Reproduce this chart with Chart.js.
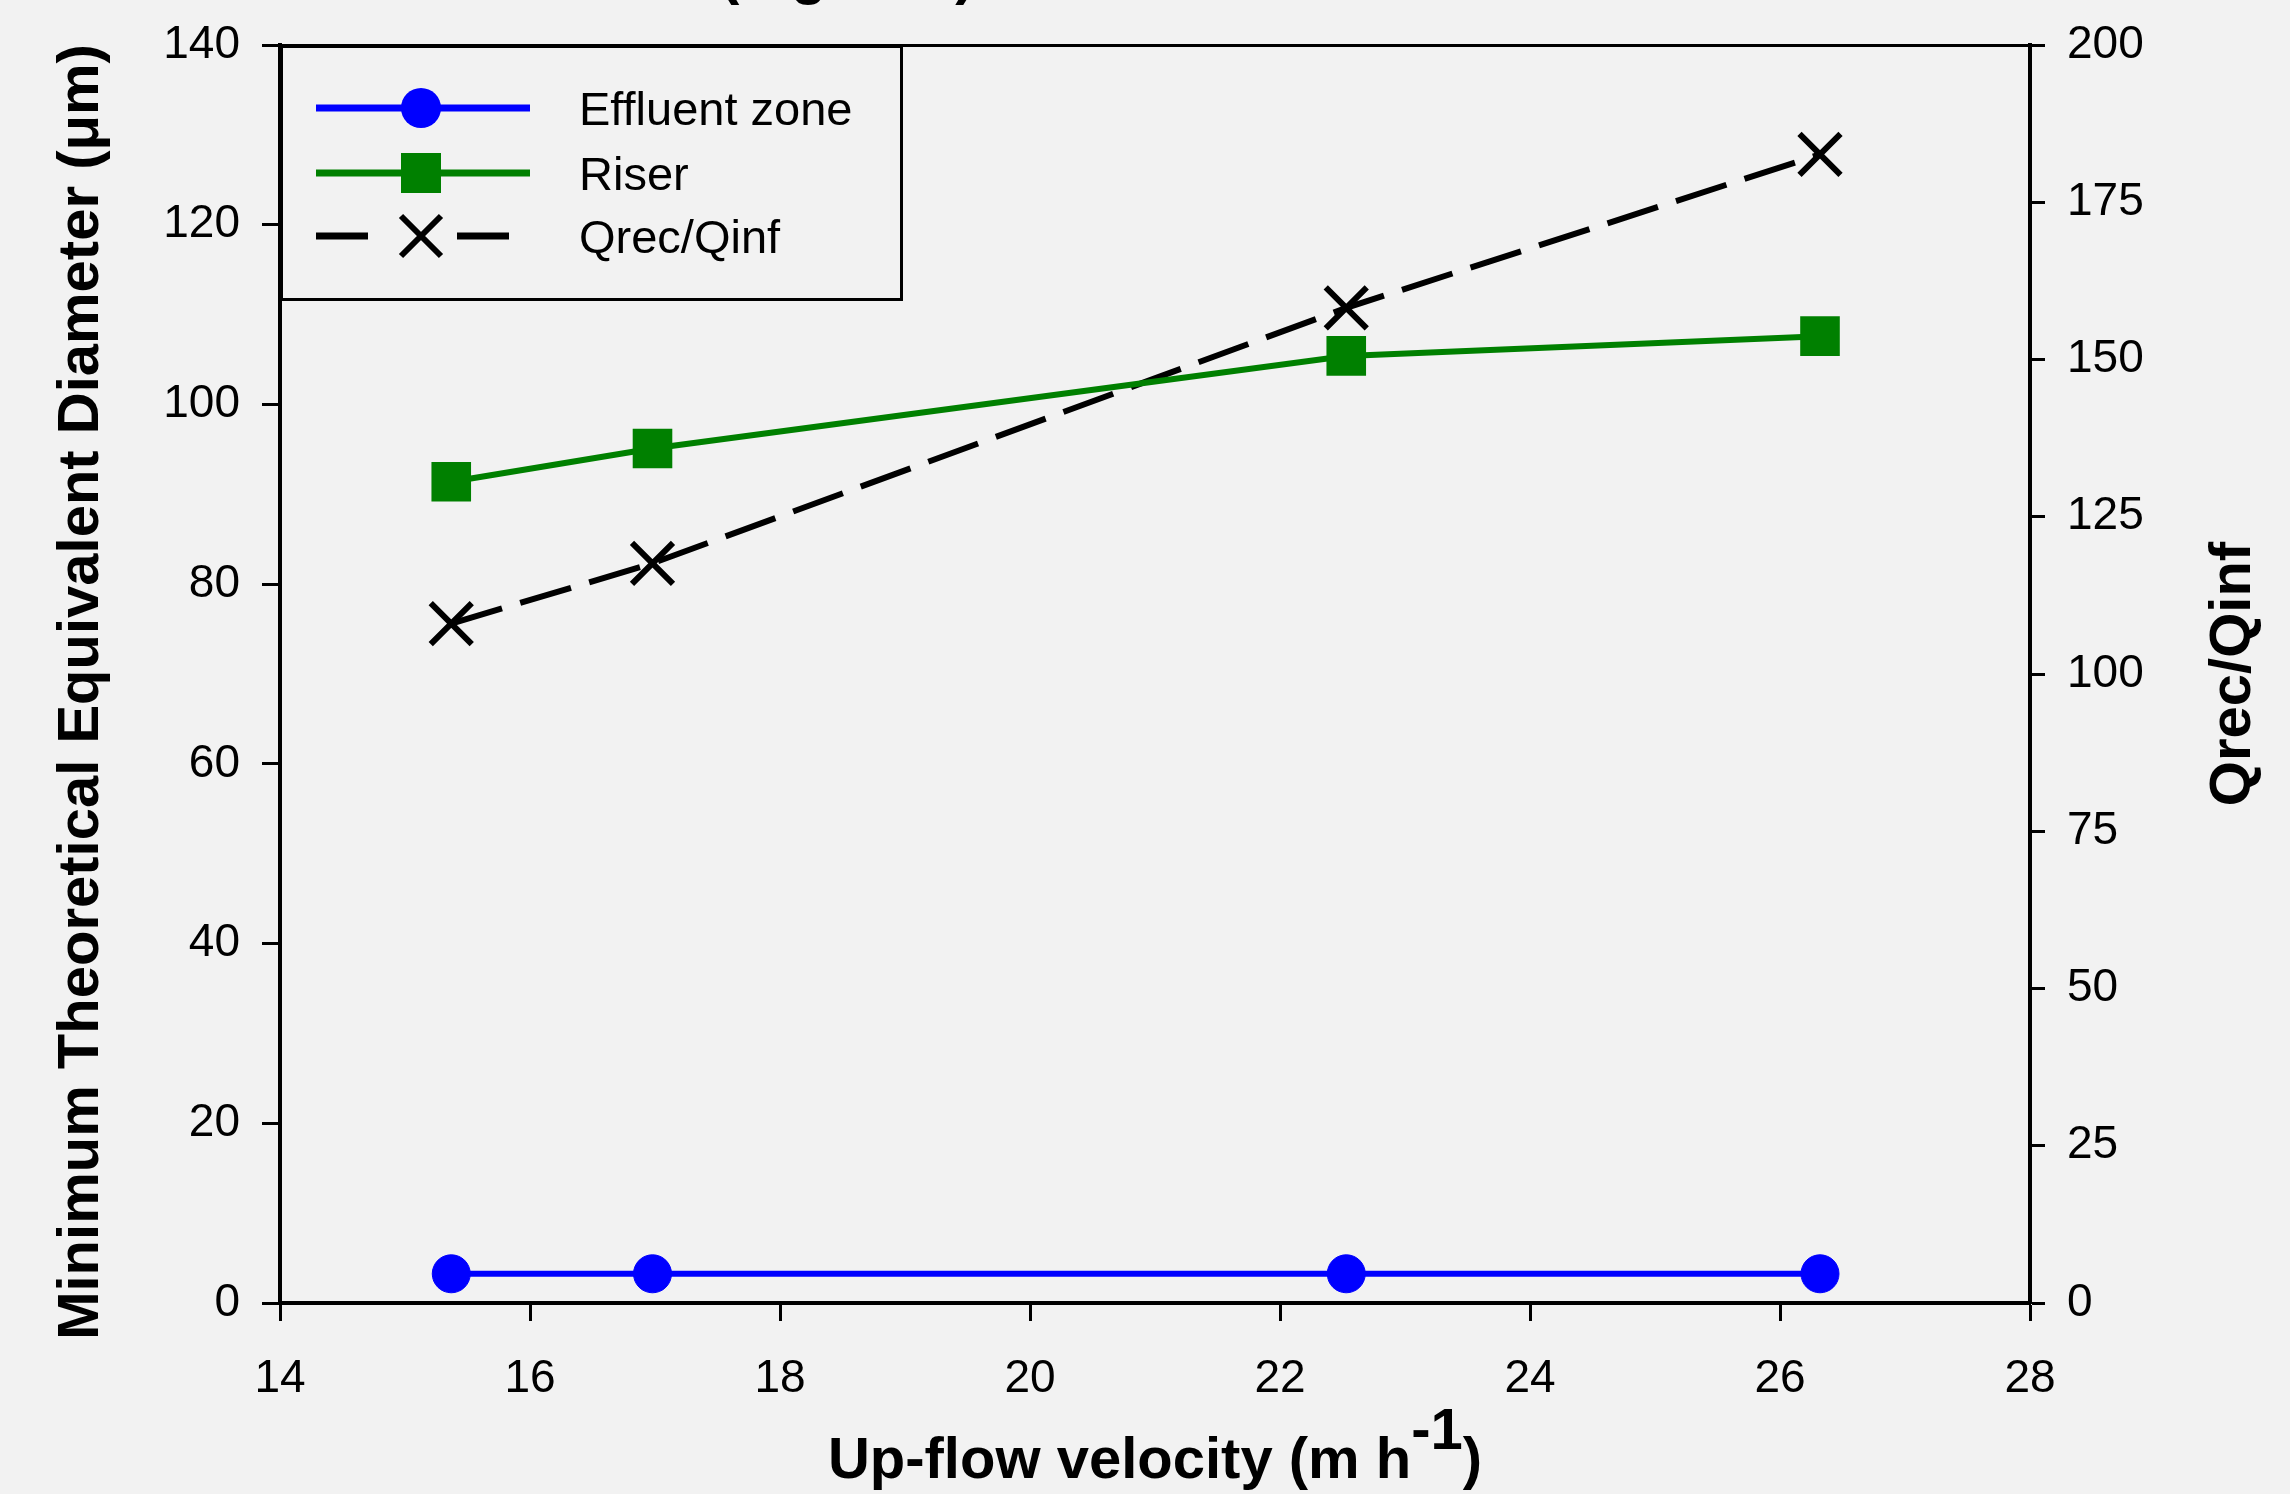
<!DOCTYPE html>
<html>
<head>
<meta charset="utf-8">
<script src="https://cdn.jsdelivr.net/npm/chart.js@4.4.1/dist/chart.umd.min.js"></script>
<style>
  html, body { margin: 0; padding: 0; background: #f2f2f2; }
  canvas { display: block; }
</style>
</head>
<body>
<canvas id="myChart" width="2290" height="1494"></canvas>
<script>
// values
const velocity = [15.37, 16.98, 22.53, 26.32]
const effluentZone = [3.25, 3.25, 3.25, 3.25]
const riser = [91.4, 95.1, 105.4, 107.6]
const qrecQinf = [108.0, 117.6, 158.2, 182.6]

const xTicks = [14, 16, 18, 20, 22, 24, 26, 28]
const yTicks = [0, 20, 40, 60, 80, 100, 120, 140]
const y2Ticks = [0, 25, 50, 75, 100, 125, 150, 175, 200]

const seriesNames = ['Effluent zone', 'Riser', 'Qrec/Qinf']

const FONT = '"Liberation Sans", Arial, sans-serif'
Chart.defaults.font.family = FONT
Chart.defaults.font.size = 46
Chart.defaults.color = '#000'

function toPoints(ys) {
    return velocity.map((x, i) => ({x: x, y: ys[i]}))
}

function setTicks(list) {
    return function (axis) {
        axis.ticks = list.map(v => ({value: v}))
    }
}

// fixed box sizes, and no extra room for the end labels
function fixSize(w, h) {
    return function (axis) {
        if (w != null) axis.width = w
        if (h != null) axis.height = h
        axis.paddingTop = 0
        axis.paddingBottom = 0
        axis.paddingLeft = 0
        axis.paddingRight = 0
    }
}

function drawMarker(ctx, style, x, y, color) {
    ctx.save()
    ctx.fillStyle = color
    ctx.strokeStyle = color
    if (style == 'circle') {
        ctx.beginPath()
        ctx.arc(x, y, 20, 0, Math.PI * 2)
        ctx.fill()
    } else if (style == 'rect') {
        ctx.fillRect(x - 20, y - 20, 40, 40)
    } else {
        ctx.lineWidth = 6
        ctx.beginPath()
        ctx.moveTo(x - 20, y - 20); ctx.lineTo(x + 20, y + 20)
        ctx.moveTo(x + 20, y - 20); ctx.lineTo(x - 20, y + 20)
        ctx.stroke()
    }
    ctx.restore()
}

const decorations = {
    id: 'decorations',
    beforeDraw(chart) {
        const ctx = chart.ctx
        ctx.save()
        ctx.fillStyle = '#f2f2f2'
        ctx.fillRect(0, 0, chart.width, chart.height)
        ctx.restore()
    },
    afterDraw(chart) {
        const ctx = chart.ctx
        const area = chart.chartArea
        ctx.save()

        // legend box
        const lx = area.left, ly = area.top
        ctx.fillStyle = '#f2f2f2'
        ctx.fillRect(lx, ly, 623, 255)
        ctx.lineWidth = 3
        ctx.strokeStyle = '#000'
        ctx.strokeRect(lx + 1.5, ly + 1.5, 620, 253)

        const rows = [108, 173, 236]
        chart.data.datasets.forEach((ds, i) => {
            const y = rows[i]
            ctx.save()
            ctx.strokeStyle = ds.borderColor
            ctx.lineWidth = 7
            if (ds.borderDash) ctx.setLineDash([52, 89])
            ctx.beginPath()
            ctx.moveTo(316, y)
            ctx.lineTo(ds.borderDash ? 509 : 530, y)
            ctx.stroke()
            ctx.restore()
            drawMarker(ctx, ds.pointStyle, 421, y, ds.borderColor)
            ctx.fillStyle = '#000'
            ctx.font = '47px ' + FONT
            ctx.textAlign = 'left'
            ctx.textBaseline = 'alphabetic'
            ctx.fillText(ds.label, 579, y + 17)
        })

        // axis titles
        ctx.fillStyle = '#000'
        ctx.font = 'bold 58px ' + FONT
        ctx.textBaseline = 'alphabetic'

        ctx.save()
        ctx.translate(98, 692)
        ctx.rotate(-Math.PI / 2)
        ctx.textAlign = 'center'
        ctx.fillText('Minimum Theoretical Equivalent Diameter (\u03bcm)', 0, 0)
        ctx.restore()

        ctx.save()
        ctx.translate(2250, 674)
        ctx.rotate(-Math.PI / 2)
        ctx.textAlign = 'center'
        ctx.fillText('Qrec/Qinf', 0, 0)
        ctx.restore()

        // x title with raised exponent
        const partA = 'Up-flow velocity (m h'
        const partB = '-1'
        const partC = ')'
        const wA = ctx.measureText(partA).width
        const wB = ctx.measureText(partB).width
        const wC = ctx.measureText(partC).width
        let x = (area.left + area.right) / 2 - (wA + wB + wC) / 2
        const base = 1478
        ctx.textAlign = 'left'
        ctx.fillText(partA, x, base)
        ctx.fillText(partB, x + wA, base - 29)
        ctx.fillText(partC, x + wA + wB, base)

        // cut-off text of the figure above
        ctx.fillText('(mg TSS)', 720, -7)

        ctx.restore()
    }
}

const ctx = document.getElementById('myChart')

new Chart(ctx, {
    type: 'line',
    data: {
        datasets: [{
            label: seriesNames[0],
            data: toPoints(effluentZone),
            yAxisID: 'y',
            borderColor: '#0000ff',
            backgroundColor: '#0000ff',
            borderWidth: 6,
            pointStyle: 'circle',
            pointRadius: 19,
            pointHoverRadius: 19,
            pointBorderWidth: 1
        }, {
            label: seriesNames[1],
            data: toPoints(riser),
            yAxisID: 'y',
            borderColor: '#008000',
            backgroundColor: '#008000',
            borderWidth: 6,
            pointStyle: 'rect',
            pointRadius: 28,
            pointHoverRadius: 28,
            pointBorderWidth: 0
        }, {
            label: seriesNames[2],
            data: toPoints(qrecQinf),
            yAxisID: 'y1',
            borderColor: '#000000',
            backgroundColor: '#000000',
            borderWidth: 6,
            borderDash: [53, 19],
            pointStyle: 'crossRot',
            pointRadius: 29,
            pointHoverRadius: 29,
            pointBorderWidth: 6
        }]
    },
    plugins: [decorations],
    options: {
        responsive: false,
        animation: false,
        devicePixelRatio: 1,
        events: [],
        layout: { padding: 0, autoPadding: false },
        plugins: {
            legend: { display: false },
            tooltip: { enabled: false }
        },
        scales: {
            x: {
                type: 'linear',
                position: 'bottom',
                min: 14,
                max: 28,
                afterBuildTicks: setTicks(xTicks),
                afterFit: fixSize(null, 191),
                ticks: { padding: 31, font: { size: 46 } },
                grid: { drawOnChartArea: false, tickLength: 18, tickWidth: 3, color: '#000' },
                border: { display: true, width: 4, color: '#000' }
            },
            xTop: {
                type: 'linear',
                position: 'top',
                min: 14,
                max: 28,
                afterFit: fixSize(null, 45),
                ticks: { display: false },
                grid: { display: false },
                border: { display: true, width: 3, color: '#000' }
            },
            y: {
                position: 'left',
                min: 0,
                max: 140,
                afterBuildTicks: setTicks(yTicks),
                afterFit: fixSize(280, null),
                ticks: { padding: 22, font: { size: 46 } },
                grid: { drawOnChartArea: false, tickLength: 18, tickWidth: 3, color: '#000' },
                border: { display: true, width: 4, color: '#000' }
            },
            y1: {
                position: 'right',
                min: 0,
                max: 200,
                afterBuildTicks: setTicks(y2Ticks),
                afterFit: fixSize(260, null),
                ticks: { padding: 22, font: { size: 46 } },
                grid: { drawOnChartArea: false, tickLength: 15, tickWidth: 3, color: '#000' },
                border: { display: true, width: 4, color: '#000' }
            }
        }
    }
})
</script>
</body>
</html>
